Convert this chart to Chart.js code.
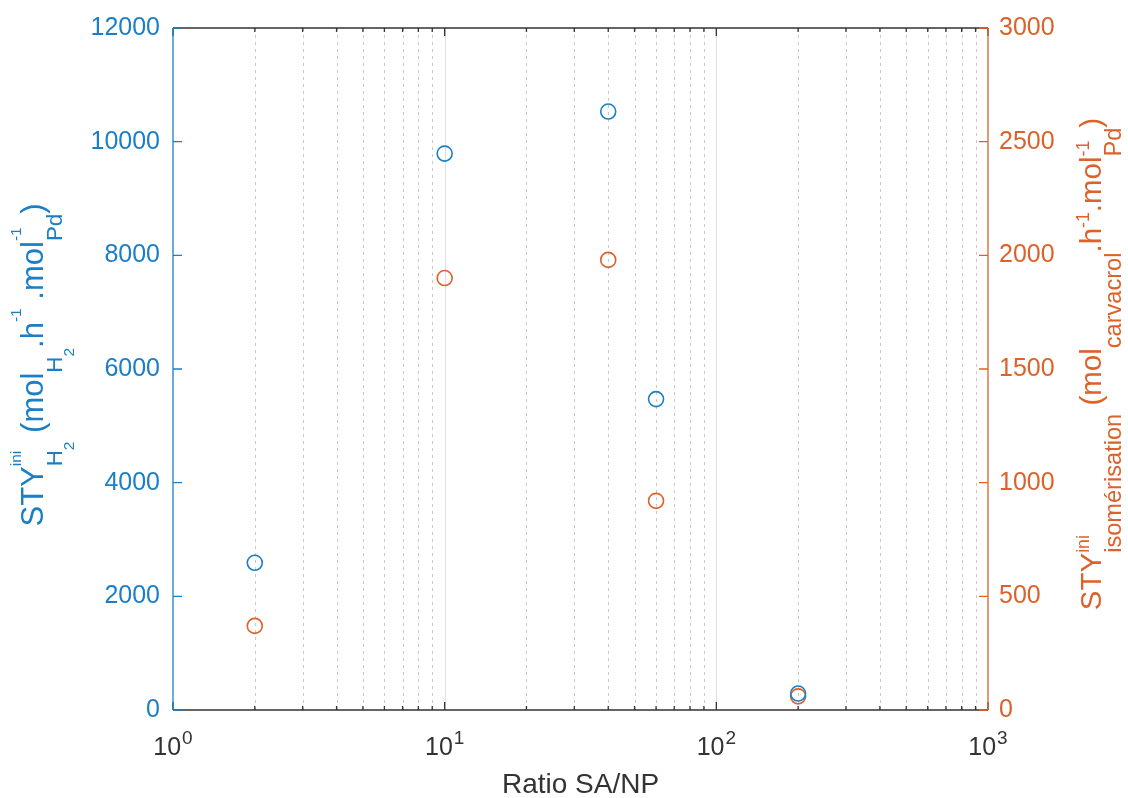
<!DOCTYPE html>
<html>
<head>
<meta charset="utf-8">
<script src="https://cdn.jsdelivr.net/npm/chart.js@4"></script>
<style>
  html, body { margin: 0; padding: 0; background: #fff; }
  #wrap { width: 1128px; height: 798px; position: relative; }
</style>
</head>
<body>
<div id="wrap"><canvas id="chart"></canvas></div>
<script>
// --- data ---
const ratios = [2, 10, 40, 60, 200];
const styH2 = [2590, 9790, 10530, 5470, 290];
const styIsom = [370, 1900, 1980, 920, 60];

const xDecades = [1, 10, 100, 1000];
const xExponents = ['0', '1', '2', '3'];
const yLeftTicks = [0, 2000, 4000, 6000, 8000, 10000, 12000];
const yRightTicks = [0, 500, 1000, 1500, 2000, 2500, 3000];

const xTitle = 'Ratio SA/NP';
// [text, kind] ; kind: n normal, sup, sub, ss (sub of sub), '*' = stacked with following sub
const leftTitle = [
  ['STY', 'n'], ['ini', 'sup*'], ['H', 'sub'], ['2', 'ss'],
  [' (mol', 'n'], ['H', 'sub'], ['2', 'ss'],
  ['.h', 'n'], ['-1', 'sup'], [' .mol', 'n'], ['-1', 'sup*'], ['Pd', 'sub'], [')', 'n']
];
const rightTitle = [
  ['STY', 'n'], ['ini', 'sup*'], ['isomérisation', 'sub'],
  [' (mol', 'n'], ['carvacrol', 'sub'],
  ['.h', 'n'], ['-1', 'sup'], ['.mol', 'n'], ['-1', 'sup*'], ['Pd', 'sub'], [')', 'n']
];

const BLUE = '#1a7fc6';
const ORANGE = '#dd6129';
const DARK = '#333333';
const FONT = '"Liberation Sans", Arial, Helvetica, sans-serif';

function drawRich(ctx, items, cx, cy, F, st, color) {
  const fontOf = s => s + 'px ' + FONT;
  const run = [];
  let x = 0, hold = null;
  for (const [t, k] of items) {
    const kind = k.replace('*', '');
    const [sc, dy] = kind === 'n' ? [1, 0] : st[kind];
    ctx.font = fontOf(F * sc);
    const w = ctx.measureText(t).width;
    if (kind === 'n' && hold !== null) { x = Math.max(x, hold); hold = null; }
    run.push({ t, x, y: dy * F, font: fontOf(F * sc) });
    if (k.endsWith('*')) hold = x + w; else x += w;
  }
  if (hold !== null) x = Math.max(x, hold);
  ctx.save();
  ctx.translate(cx, cy);
  ctx.rotate(-Math.PI / 2);
  ctx.fillStyle = color;
  ctx.textAlign = 'left';
  ctx.textBaseline = 'alphabetic';
  run.forEach(r => { ctx.font = r.font; ctx.fillText(r.t, r.x - x / 2, r.y); });
  ctx.restore();
}

function minorValues() {
  const out = [];
  xDecades.slice(0, -1).forEach(d => { for (let m = 2; m <= 9; m++) out.push(d * m); });
  return out;
}

const matlabAxes = {
  id: 'matlabAxes',
  beforeDatasetsDraw(chart) {
    const { ctx, chartArea: a, scales } = chart;
    const xs = scales.x;
    ctx.save();
    ctx.lineWidth = 1;
    // minor grid (dotted)
    ctx.strokeStyle = 'rgba(38,38,38,0.25)';
    ctx.setLineDash([3, 4]);
    minorValues().forEach(v => {
      const px = Math.round(xs.getPixelForValue(v)) + 0.5;
      ctx.beginPath(); ctx.moveTo(px, a.bottom); ctx.lineTo(px, a.top); ctx.stroke();
    });
    // major grid
    ctx.setLineDash([]);
    ctx.strokeStyle = 'rgba(38,38,38,0.15)';
    xDecades.slice(1, -1).forEach(v => {
      const px = Math.round(xs.getPixelForValue(v)) + 0.5;
      ctx.beginPath(); ctx.moveTo(px, a.bottom); ctx.lineTo(px, a.top); ctx.stroke();
    });
    ctx.restore();
  },
  afterDraw(chart) {
    const { ctx, chartArea: a, scales } = chart;
    const xs = scales.x, yl = scales.y, yr = scales.y2;
    ctx.save();
    ctx.lineWidth = 1.3;
    // x ticks (top and bottom, inward)
    ctx.strokeStyle = DARK;
    const xt = (v, len) => {
      const px = xs.getPixelForValue(v);
      ctx.beginPath();
      ctx.moveTo(px, a.bottom); ctx.lineTo(px, a.bottom - len);
      ctx.moveTo(px, a.top); ctx.lineTo(px, a.top + len);
      ctx.stroke();
    };
    minorValues().forEach(v => xt(v, 4));
    xDecades.forEach(v => xt(v, 8));
    // top and bottom lines
    ctx.beginPath();
    ctx.moveTo(a.left, a.top); ctx.lineTo(a.right, a.top);
    ctx.moveTo(a.left, a.bottom); ctx.lineTo(a.right, a.bottom);
    ctx.stroke();
    // left axis
    ctx.strokeStyle = BLUE;
    ctx.beginPath();
    ctx.moveTo(a.left, a.top); ctx.lineTo(a.left, a.bottom);
    yLeftTicks.forEach(v => {
      const py = yl.getPixelForValue(v);
      ctx.moveTo(a.left, py); ctx.lineTo(a.left + 9, py);
    });
    ctx.stroke();
    // right axis
    ctx.strokeStyle = ORANGE;
    ctx.beginPath();
    ctx.moveTo(a.right, a.top); ctx.lineTo(a.right, a.bottom);
    yRightTicks.forEach(v => {
      const py = yr.getPixelForValue(v);
      ctx.moveTo(a.right, py); ctx.lineTo(a.right - 9, py);
    });
    ctx.stroke();

    // x tick labels 10^n
    ctx.fillStyle = DARK;
    ctx.textBaseline = 'alphabetic';
    ctx.textAlign = 'left';
    xDecades.forEach((v, i) => {
      const px = xs.getPixelForValue(v);
      ctx.font = '25px ' + FONT;
      const wb = ctx.measureText('10').width;
      ctx.font = '19px ' + FONT;
      const we = ctx.measureText(xExponents[i]).width;
      const x0 = px - (wb + 1 + we) / 2;
      ctx.font = '25px ' + FONT;
      ctx.fillText('10', x0, 755);
      ctx.font = '19px ' + FONT;
      ctx.fillText(xExponents[i], x0 + wb + 1, 744);
    });
    // x title
    ctx.font = '28px ' + FONT;
    ctx.textAlign = 'center';
    ctx.fillText(xTitle, (a.left + a.right) / 2, 793);

    // y titles
    drawRich(ctx, leftTitle, 43, 365, 31,
      { sup: [0.5, -0.7], sub: [0.72, 0.62], ss: [0.5, 1.0] }, BLUE);
    drawRich(ctx, rightTitle, 1101, 364, 29.5,
      { sup: [0.6, -0.4], sub: [0.8, 0.68], ss: [0.5, 1.0] }, ORANGE);
    ctx.restore();
  }
};

const tickFont = { family: FONT, size: 25 };
const plain = v => String(v);

new Chart(document.getElementById('chart'), {
  type: 'scatter',
  data: {
    datasets: [
      {
        label: 'STY H2',
        data: ratios.map((r, i) => ({ x: r, y: styH2[i] })),
        yAxisID: 'y',
        borderColor: BLUE,
        backgroundColor: 'rgba(0,0,0,0)',
        pointRadius: 7.5,
        pointBorderWidth: 1.6
      },
      {
        label: 'STY isomérisation',
        data: ratios.map((r, i) => ({ x: r, y: styIsom[i] })),
        yAxisID: 'y2',
        borderColor: ORANGE,
        backgroundColor: 'rgba(0,0,0,0)',
        pointRadius: 7.5,
        pointBorderWidth: 1.6
      }
    ]
  },
  options: {
    responsive: true,
    maintainAspectRatio: false,
    animation: false,
    layout: { padding: { top: 25, left: 0, right: 0, bottom: 0 } },
    plugins: { legend: { display: false }, tooltip: { enabled: false } },
    scales: {
      x: {
        type: 'logarithmic',
        min: 1, max: 1000,
        ticks: { display: false },
        grid: { display: false, drawTicks: false },
        border: { display: false },
        afterFit: s => { s.height = 88; }
      },
      y: {
        position: 'left',
        min: 0, max: 12000,
        afterBuildTicks: s => { s.ticks = yLeftTicks.map(v => ({ value: v })); },
        ticks: { color: BLUE, font: tickFont, padding: 13, callback: plain },
        grid: { display: false, drawTicks: false },
        border: { display: false },
        afterFit: s => { s.width = 173; }
      },
      y2: {
        position: 'right',
        min: 0, max: 3000,
        afterBuildTicks: s => { s.ticks = yRightTicks.map(v => ({ value: v })); },
        ticks: { color: ORANGE, font: tickFont, padding: 11, callback: plain },
        grid: { display: false, drawTicks: false },
        border: { display: false },
        afterFit: s => { s.width = 140; }
      }
    }
  },
  plugins: [matlabAxes]
});
</script>
</body>
</html>
